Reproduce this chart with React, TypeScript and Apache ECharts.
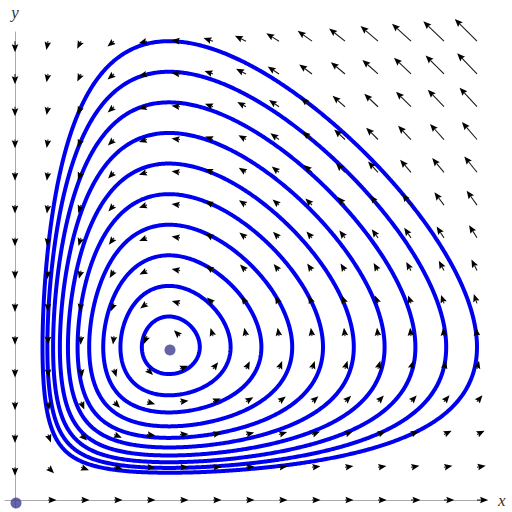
import React, { useEffect, useRef } from "react";
import * as echarts from "echarts";

// Lotka–Volterra model: x' = x(a - b y), y' = y(d x - c)
const modelParams = [1, 1, 1, 1]; // a, b, c, d
// Each closed orbit is identified by where it crosses y = 1 on the right side
const orbitStartsX = [1.2, 1.4, 1.6, 1.8, 2.0, 2.2, 2.4, 2.6, 2.8, 3.0];
// Sample points of the direction field (same along x and y)
const fieldTicks = [0, 0.2143, 0.4286, 0.6429, 0.8571, 1.0714, 1.2857, 1.5, 1.7143, 1.9286, 2.1429, 2.3571, 2.5714, 2.7857, 3.0];
// Equilibrium points
const equilibria = [
  [0, 0],
  [1, 1],
];
const axisRangeX = [-0.065, 3.065];
const axisRangeY = [-0.052, 3.06];

function field(x: number, y: number): [number, number] {
  const [a, b, c, d] = modelParams;
  return [x * (a - b * y), y * (d * x - c)];
}

function traceOrbit(x0: number): number[][] {
  const unit = (x: number, y: number): [number, number] => {
    const [u, v] = field(x, y);
    const m = Math.hypot(u, v) || 1;
    return [u / m, v / m];
  };
  let x = x0;
  let y = 1;
  const pts: number[][] = [[x, y]];
  const h = 0.004;
  let closedAt = -1;
  for (let i = 0; i < 40000; i++) {
    const k1 = unit(x, y);
    const k2 = unit(x + (h / 2) * k1[0], y + (h / 2) * k1[1]);
    const k3 = unit(x + (h / 2) * k2[0], y + (h / 2) * k2[1]);
    const k4 = unit(x + h * k3[0], y + h * k3[1]);
    const nx = x + (h / 6) * (k1[0] + 2 * k2[0] + 2 * k3[0] + k4[0]);
    const ny = y + (h / 6) * (k1[1] + 2 * k2[1] + 2 * k3[1] + k4[1]);
    if (closedAt < 0 && i > 50 && y < 1 && ny >= 1 && nx > 1) closedAt = i;
    x = nx;
    y = ny;
    pts.push([x, y]);
    if (closedAt >= 0 && i - closedAt > 30) break;
  }
  return pts;
}

export default function App() {
  const ref = useRef<HTMLDivElement>(null);
  useEffect(() => {
    if (!ref.current) return;
    const chart = echarts.init(ref.current, undefined, { renderer: "svg" });

    const arrowData: number[][] = [];
    for (const gx of fieldTicks) {
      for (const gy of fieldTicks) {
        const [u, v] = field(gx, gy);
        arrowData.push([gx, gy, u, v]);
      }
    }

    const ARROW_SCALE = 3.7;
    const MIN_LEN = 8.5;
    const HEAD_LEN = 8;
    const HEAD_HW = 3.3;

    const orbitSeries = orbitStartsX.map((x0) => ({
      type: "line",
      data: traceOrbit(x0),
      showSymbol: false,
      symbol: "none",
      smooth: false,
      lineStyle: { color: "#0000f0", width: 4, join: "round", cap: "round" },
      z: 2,
      silent: true,
    }));

    const nameStyle = {
      fontFamily: "Liberation Serif",
      fontStyle: "italic",
      fontSize: 17,
      color: "#333",
    };

    chart.setOption({
      animation: false,
      backgroundColor: "#fff",
      grid: { left: 5, top: 32, width: 482, height: 476, containLabel: false },
      xAxis: {
        type: "value",
        min: axisRangeX[0],
        max: axisRangeX[1],
        axisLine: { show: true, onZero: true, lineStyle: { color: "#aaa", width: 1 } },
        axisTick: { show: false },
        axisLabel: { show: false },
        splitLine: { show: false },
        name: "x",
        nameLocation: "end",
        nameGap: 11,
        nameTextStyle: nameStyle,
      },
      yAxis: {
        type: "value",
        min: axisRangeY[0],
        max: axisRangeY[1],
        axisLine: { show: true, onZero: true, lineStyle: { color: "#aaa", width: 1 } },
        axisTick: { show: false },
        axisLabel: { show: false },
        splitLine: { show: false },
        name: "y",
        nameLocation: "end",
        nameGap: 11,
        nameTextStyle: nameStyle,
      },
      series: [
        ...orbitSeries,
        {
          type: "custom",
          coordinateSystem: "cartesian2d",
          data: arrowData,
          encode: { x: 0, y: 1 },
          z: 3,
          silent: true,
          clip: false,
          renderItem: (params: any, api: any) => {
            const gx = api.value(0);
            const gy = api.value(1);
            const u = api.value(2);
            const v = api.value(3);
            const m = Math.hypot(u, v);
            if (m === 0) return { type: "group", children: [] };
            const p = api.coord([gx, gy]);
            const dx = u / m;
            const dy = -v / m;
            const L = Math.max(ARROW_SCALE * m, MIN_LEN);
            const tip = [p[0] + dx * L, p[1] + dy * L];
            const hl = Math.min(HEAD_LEN, L);
            const base = [tip[0] - dx * hl, tip[1] - dy * hl];
            const back = [tip[0] - dx * hl * 0.85, tip[1] - dy * hl * 0.85];
            const nx = -dy;
            const ny = dx;
            return {
              type: "group",
              children: [
                {
                  type: "line",
                  shape: { x1: p[0], y1: p[1], x2: back[0], y2: back[1] },
                  style: { stroke: "#1a1a1a", lineWidth: 1.1 },
                },
                {
                  type: "polygon",
                  shape: {
                    points: [
                      tip,
                      [base[0] + nx * HEAD_HW, base[1] + ny * HEAD_HW],
                      back,
                      [base[0] - nx * HEAD_HW, base[1] - ny * HEAD_HW],
                    ],
                  },
                  style: { fill: "#000" },
                },
              ],
            };
          },
        },
        {
          type: "scatter",
          data: equilibria,
          symbol: "circle",
          symbolSize: 11,
          symbolOffset: [1, 3],
          itemStyle: { color: "#3d3d91" },
          z: 4,
          silent: true,
        },
      ],
    });
    return () => chart.dispose();
  }, []);
  return (
    <div
      ref={ref}
      style={{ position: "absolute", left: 0, top: 0, width: 512, height: 512 }}
    />
  );
}
